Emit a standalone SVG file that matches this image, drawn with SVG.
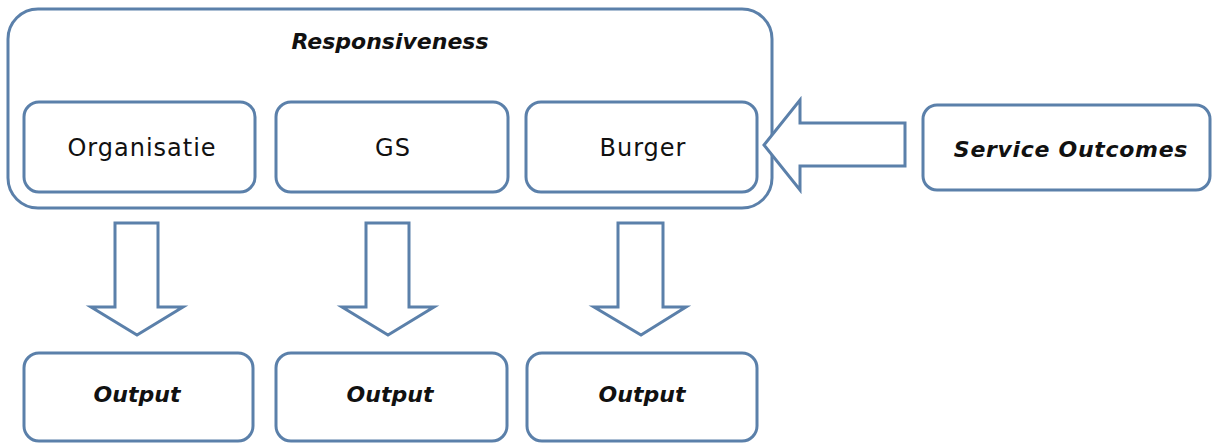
<svg xmlns="http://www.w3.org/2000/svg" width="1214" height="443" viewBox="0 0 1214 443">
<style>
.box{fill:#fff;stroke:#5b80aa;stroke-width:3}
.arr{fill:#fff;stroke:#5b80aa;stroke-width:3;stroke-linejoin:miter}
.t{font-family:"DejaVu Sans",Verdana,sans-serif;font-size:22px;fill:#111;text-anchor:middle}
.r{font-size:24px;letter-spacing:1px}
.bi{font-weight:bold;font-style:italic}
</style>
<rect width="1214" height="443" fill="#fff"/>
<g id="responsiveness">
<rect class="box" x="8" y="9" width="764" height="199" rx="30"/>
<text class="t bi" x="390" y="49">Responsiveness</text>
</g>
<g id="organisatie">
<rect class="box" x="24" y="102" width="231" height="90" rx="15"/>
<text class="t r" x="142" y="156">Organisatie</text>
</g>
<g id="gs">
<rect class="box" x="276" y="102" width="232" height="90" rx="15"/>
<text class="t r" x="393" y="156">GS</text>
</g>
<g id="burger">
<rect class="box" x="526" y="102" width="231" height="90" rx="15"/>
<text class="t r" x="643" y="156">Burger</text>
</g>
<g id="service-outcomes">
<rect class="box" x="923" y="105" width="287" height="85" rx="14"/>
<text class="t bi" x="1071" y="157" style="letter-spacing:0.7px">Service Outcomes</text>
</g>
<g id="output1">
<rect class="box" x="24" y="353" width="229" height="88" rx="15"/>
<text class="t bi" x="137" y="402">Output</text>
</g>
<g id="output2">
<rect class="box" x="276" y="353" width="231" height="88" rx="15"/>
<text class="t bi" x="390" y="402">Output</text>
</g>
<g id="output3">
<rect class="box" x="527" y="353" width="230" height="88" rx="15"/>
<text class="t bi" x="642" y="402">Output</text>
</g>
<g id="connectors">
<polygon class="arr" points="905,123 800,123 800,100 764,145 800,190 800,166 905,166"/>
<polygon class="arr" points="115,223 158,223 158,307 183,307 137,335 91,307 115,307"/>
<polygon class="arr" points="366,223 409,223 409,307 434,307 388,335 342,307 366,307"/>
<polygon class="arr" points="618,223 663,223 663,307 686,307 641,335 594,307 618,307"/>
</g>
</svg>
